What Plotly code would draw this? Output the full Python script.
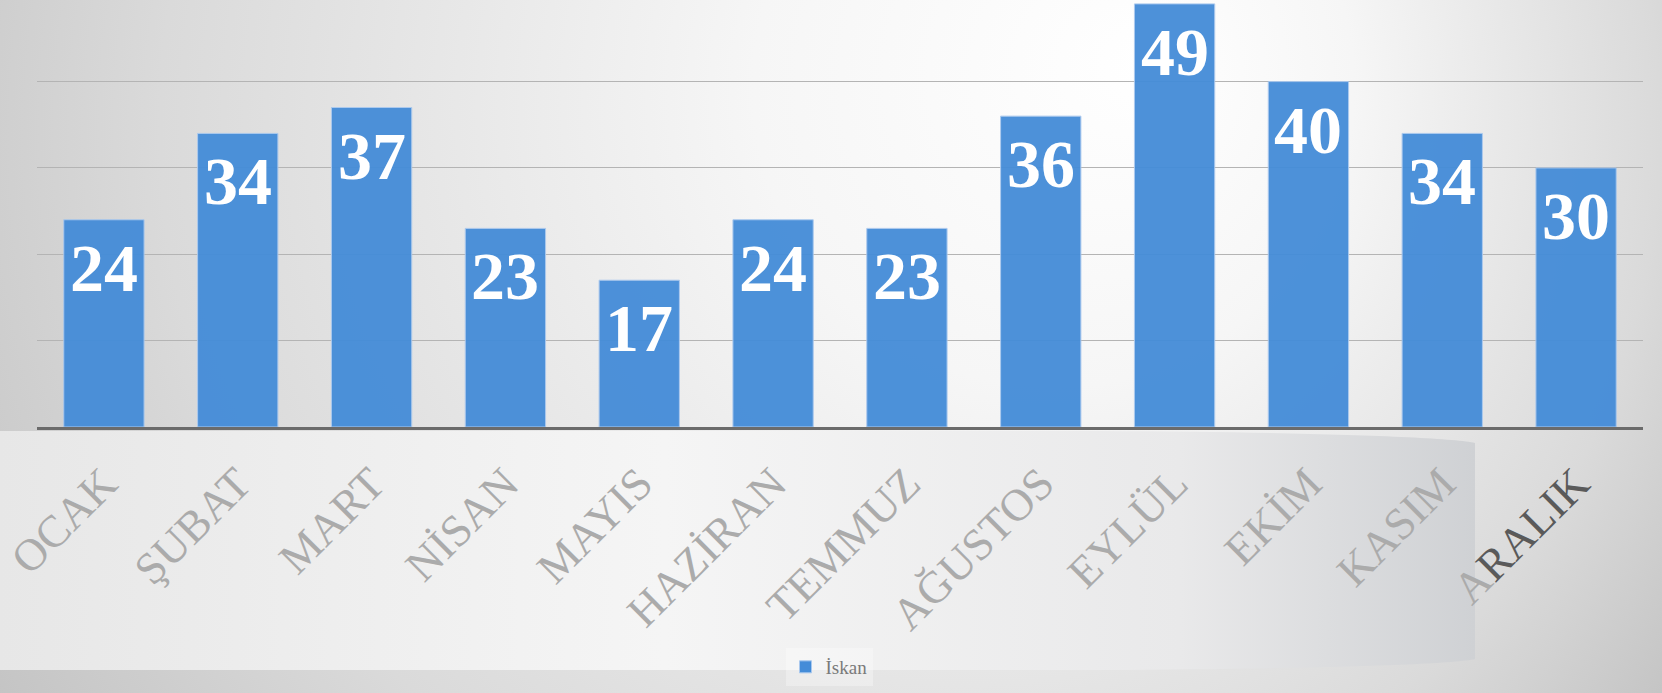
import base64
import plotly.graph_objects as go

# ---- data ----
months = ["OCAK", "ŞUBAT", "MART", "NİSAN", "MAYIS", "HAZİRAN",
          "TEMMUZ", "AĞUSTOS", "EYLÜL", "EKİM", "KASIM", "ARALIK"]
values = [24, 34, 37, 23, 17, 24, 23, 36, 49, 40, 34, 30]
series_name = "İskan"

W, H = 1662, 693
ML, MR, MT, MB = 37, 19, 0, 266
PW, PH = W - ML - MR, H - MT - MB

# ---- decorative background (gradient + light band) ----
svg = f'''<svg xmlns="http://www.w3.org/2000/svg" width="{W}" height="{H}" viewBox="0 0 {W} {H}">
<defs>
<radialGradient id="bg" gradientUnits="userSpaceOnUse" cx="830" cy="150" r="1000" fx="1150" fy="60">
<stop offset="0" stop-color="#ffffff"/>
<stop offset="0.3" stop-color="#f6f6f6"/>
<stop offset="0.75" stop-color="#dadada"/>
<stop offset="1" stop-color="#c4c4c4"/>
</radialGradient>
<linearGradient id="band" x1="0" y1="0" x2="1475" y2="0" gradientUnits="userSpaceOnUse">
<stop offset="0" stop-color="#e7e7e7"/>
<stop offset="0.45" stop-color="#f5f5f5"/>
<stop offset="0.8" stop-color="#e9e9ea"/>
<stop offset="1" stop-color="#cfd1d4"/>
</linearGradient>
</defs>
<rect width="{W}" height="{H}" fill="url(#bg)"/>
<path d="M0,431 L1100,431 C1300,432 1450,437 1475,443 L1475,659 C1450,665 1300,669 1100,670 L0,670 Z" fill="url(#band)"/>
</svg>'''
bg_src = "data:image/svg+xml;base64," + base64.b64encode(svg.encode("utf-8")).decode("ascii")

tick_text = [m if m != "ARALIK" else "A<span style='color:#5a5a5a'>RALIK</span>" for m in months]

fig = go.Figure()
fig.add_trace(go.Bar(
    x=months, y=values, name=series_name,
    marker=dict(color="#448cd8", opacity=0.95,
                line=dict(color="#a9c8ee", width=1)),
    hoverinfo="skip",
))

annotations = [
    dict(x=m, y=v, xref="x", yref="y", text="<b>" + str(v) + "</b>", showarrow=False,
         yanchor="top", yshift=-8,
         font=dict(family="Liberation Serif", size=68, color="white"))
    for m, v in zip(months, values)
]

fig.update_layout(
    width=W, height=H, autosize=False,
    margin=dict(l=ML, r=MR, t=MT, b=MB, pad=0),
    paper_bgcolor="#ffffff",
    plot_bgcolor="rgba(0,0,0,0)",
    bargap=0.4,
    showlegend=True,
    legend=dict(orientation="h", x=(829 - ML) / PW, y=(PH - 667) / PH,
                xanchor="center", yanchor="middle",
                font=dict(family="Liberation Serif", size=19, color="#7a7a7a"),
                bgcolor="rgba(255,255,255,0.3)"),
    annotations=annotations,
    images=[dict(source=bg_src, xref="paper", yref="paper",
                 x=-ML / PW, y=1 + MT / PH, sizex=W / PW, sizey=H / PH,
                 xanchor="left", yanchor="top", sizing="stretch", layer="below")],
    xaxis=dict(
        type="category", tickvals=months, ticktext=tick_text,
        tickangle=-45, showgrid=False, ticks="",
        showline=True, linecolor="#6b6b6b", linewidth=3,
        ticklabelstandoff=9,
        tickfont=dict(family="Liberation Serif", size=45, color="#ababab"),
    ),
    yaxis=dict(
        range=[0, 49.45], showticklabels=False, ticks="",
        showgrid=True, gridcolor="#b4b4b4", gridwidth=1,
        dtick=10, zeroline=False, showline=False,
    ),
)

fig.write_html("out.html",
               config={"displayModeBar": False, "staticPlot": True},
               post_script="document.body.style.margin='0px';document.body.style.overflow='hidden';")
